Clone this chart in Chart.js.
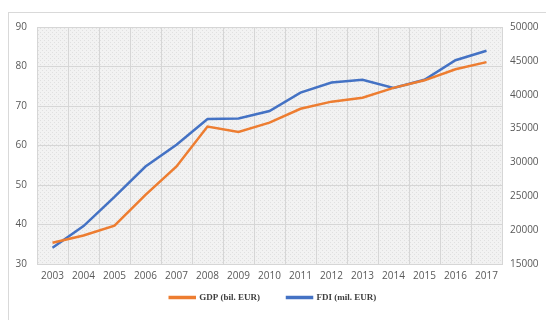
<!DOCTYPE html>
<html>
<head>
<meta charset="utf-8">
<script src="https://cdn.jsdelivr.net/npm/chart.js@4"></script>
<style>
  html, body { margin: 0; padding: 0; background: #fff; }
  #wrap { position: relative; width: 546px; height: 320px; }
</style>
</head>
<body>
<div id="wrap"><canvas id="c"></canvas></div>
<script>
// GDP vs FDI, 2003-2017
const years = ["2003", "2004", "2005", "2006", "2007", "2008", "2009", "2010",
               "2011", "2012", "2013", "2014", "2015", "2016", "2017"];
const gdp = [35.4, 37.2, 39.7, 47.5, 54.7, 64.8, 63.4, 65.8, 69.3, 71.1, 72.1, 74.6, 76.5, 79.3, 81.1];
const fdi = [17400, 20600, 24900, 29400, 32600, 36400, 36500, 37600, 40300, 41800, 42200, 41000, 42200, 45100, 46500];
const leftTicks = { min: 30, max: 90, step: 10 };
const rightTicks = { min: 15000, max: 50000, step: 5000 };

const ORANGE = "#ED7D31";
const BLUE = "#4472C4";
const GRID = "#d6d6d6";
const TICK = "#595959";

// fine crosshatch like the Excel plot-area fill
function hatch() {
  const p = document.createElement("canvas");
  p.width = 4; p.height = 4;
  const g = p.getContext("2d");
  g.fillStyle = "#f2f2f2";
  g.fillRect(0, 0, 4, 4);
  g.fillStyle = "#e0e0e0";
  g.fillRect(0, 0, 1, 1);
  g.fillRect(2, 2, 1, 1);
  return g.createPattern(p, "repeat");
}

const frame = {
  id: "frame",
  beforeDraw(chart) {
    const { ctx, chartArea: a } = chart;
    ctx.save();
    ctx.strokeStyle = "#d9d9d9";
    ctx.lineWidth = 1;
    ctx.strokeRect(8.5, 12.5, 560, 330);
    ctx.fillStyle = hatch();
    ctx.fillRect(a.left, a.top, a.right - a.left, a.bottom - a.top);
    ctx.restore();
  },
};

// legend keeps wide item spacing (padding 27) but sits close under the axis
const legendFit = {
  id: "legendFit",
  afterInit(chart) {
    const lg = chart.legend;
    const fit = lg.fit, draw = lg.draw;
    lg.fit = function () {
      fit.call(this);
      this.height = 32;
    };
    lg.draw = function () {
      const t = this.top;
      this.top = t - 22;
      draw.call(this);
      this.top = t;
    };
  },
};

new Chart(document.getElementById("c"), {
  type: "line",
  data: {
    labels: years,
    datasets: [
      { label: "GDP (bil. EUR)", data: gdp, yAxisID: "y", borderColor: ORANGE, backgroundColor: ORANGE,
        borderWidth: 2.5, pointRadius: 0, tension: 0 },
      { label: "FDI (mil. EUR)", data: fdi, yAxisID: "y1", borderColor: BLUE, backgroundColor: BLUE,
        borderWidth: 2.5, pointRadius: 0, tension: 0 },
    ],
  },
  options: {
    responsive: true, maintainAspectRatio: false, animation: false,
    layout: { padding: { top: 27, bottom: 0 } },
    scales: {
      x: {
        offset: true,
        grid: { color: GRID, offset: true, drawTicks: false },
        border: { color: GRID },
        ticks: { color: TICK, font: { family: "Open Sans", size: 10 }, padding: 6, maxRotation: 0, autoSkip: false },
        afterFit: (s) => { s.height = 24; },
      },
      y: {
        position: "left",
        min: leftTicks.min, max: leftTicks.max,
        grid: { color: GRID, drawTicks: false },
        border: { display: false },
        ticks: { stepSize: leftTicks.step, color: TICK, font: { family: "Open Sans", size: 10 }, padding: 10 },
        afterFit: (s) => { s.width = 37; },
      },
      y1: {
        position: "right",
        min: rightTicks.min, max: rightTicks.max,
        grid: { display: false, drawTicks: false },
        border: { display: false },
        ticks: { stepSize: rightTicks.step, color: TICK, font: { family: "Open Sans", size: 10 }, padding: 8,
                 callback: (v) => String(v) },
        afterFit: (s) => { s.width = 44; },
      },
    },
    plugins: {
      legend: {
        position: "bottom",
        labels: {
          boxWidth: 25, boxHeight: 1, padding: 27,
          color: "#404040",
          font: { family: "Liberation Serif", size: 9, weight: "bold" },
        },
      },
      tooltip: { enabled: false },
    },
  },
  plugins: [frame, legendFit],
});
</script>
</body>
</html>
